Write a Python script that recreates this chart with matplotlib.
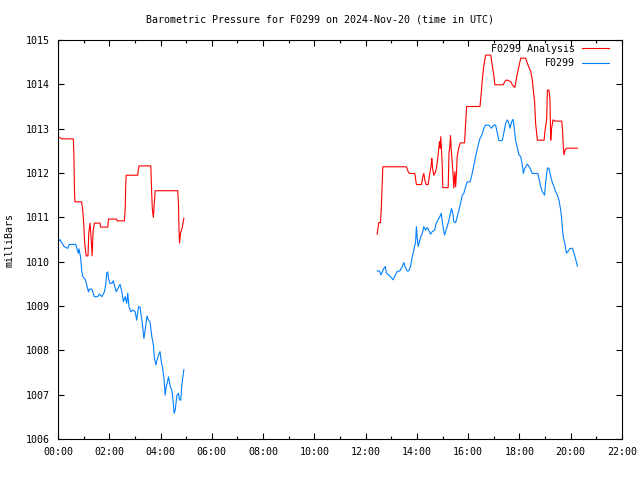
import numpy as np
import matplotlib
matplotlib.use("Agg")
import matplotlib.pyplot as plt
from matplotlib.ticker import MultipleLocator, FuncFormatter

# Tiempos en horas UTC, presion en milibares
analysis_t = [0.00, 0.15, 0.60, 0.62, 0.64, 0.66, 0.92, 0.96, 1.00, 1.04, 1.10, 1.17,
              1.20, 1.25, 1.30, 1.33, 1.37, 1.42, 1.64, 1.66, 1.94, 1.97, 2.29, 2.31,
              2.59, 2.62, 2.64, 2.66, 3.11, 3.13, 3.16, 3.62, 3.65, 3.68, 3.72, 3.79,
              4.67, 4.70, 4.72, 4.74, 4.78, 4.84, 4.91,
              np.nan,
              12.45, 12.49, 12.51, 12.58, 12.61, 12.67, 13.59, 13.66, 13.71, 13.92,
              13.98, 14.18, 14.23, 14.27, 14.31, 14.36, 14.44, 14.49, 14.56, 14.58,
              14.62, 14.66, 14.73, 14.77, 14.82, 14.88, 14.91, 14.93, 14.96, 14.99,
              15.01, 15.22, 15.25, 15.29, 15.31, 15.34, 15.38, 15.42, 15.44, 15.48,
              15.51, 15.55, 15.57, 15.64, 15.70, 15.86, 15.90, 15.94, 16.46, 16.51,
              16.55, 16.61, 16.68, 16.88, 16.94, 17.00, 17.04, 17.37, 17.42, 17.50,
              17.66, 17.72, 17.82, 17.92, 18.05, 18.24, 18.33, 18.44, 18.50, 18.54,
              18.59, 18.63, 18.70, 18.96, 19.00, 19.06, 19.09, 19.15, 19.19, 19.22,
              19.25, 19.31, 19.38, 19.65, 19.68, 19.71, 19.74, 19.78, 19.84, 20.26]
analysis_p = [1012.82, 1012.77, 1012.77, 1012.41, 1011.69, 1011.35, 1011.35, 1011.19,
              1010.90, 1010.42, 1010.13, 1010.13, 1010.65, 1010.87, 1010.45, 1010.13,
              1010.70, 1010.87, 1010.87, 1010.78, 1010.78, 1010.96, 1010.96, 1010.92,
              1010.92, 1011.19, 1011.69, 1011.95, 1011.95, 1012.07, 1012.16, 1012.16,
              1011.62, 1011.19, 1011.00, 1011.60, 1011.60, 1011.29, 1010.71, 1010.42,
              1010.65, 1010.75, 1010.98,
              np.nan,
              1010.62, 1010.79, 1010.88, 1010.88, 1011.20, 1012.14, 1012.14, 1012.03,
              1011.99, 1011.99, 1011.74, 1011.74, 1011.92, 1011.99, 1011.84, 1011.74,
              1011.74, 1011.95, 1012.18, 1012.33, 1012.07, 1011.95, 1012.03, 1012.14,
              1012.37, 1012.71, 1012.56, 1012.82, 1012.52, 1012.14, 1011.67, 1011.67,
              1012.44, 1012.63, 1012.84, 1012.52, 1012.22, 1011.88, 1011.66, 1012.03,
              1011.69, 1012.07, 1012.37, 1012.59, 1012.68, 1012.68, 1013.12, 1013.50,
              1013.50, 1013.80, 1014.10, 1014.42, 1014.66, 1014.66, 1014.42, 1014.21,
              1013.99, 1013.99, 1014.06, 1014.10, 1014.06, 1013.99, 1013.93, 1014.25,
              1014.59, 1014.59, 1014.44, 1014.29, 1014.10, 1013.87, 1013.61, 1013.12,
              1012.74, 1012.74, 1012.97, 1013.20, 1013.87, 1013.87, 1013.65, 1012.74,
              1012.99, 1013.20, 1013.17, 1013.17, 1012.97, 1012.59, 1012.41, 1012.52,
              1012.56, 1012.56]

station_t = [0.01, 0.07, 0.24, 0.38, 0.44, 0.69, 0.79, 0.82, 0.88, 0.90, 0.93, 0.97,
             1.07, 1.12, 1.19, 1.22, 1.32, 1.42, 1.55, 1.61, 1.71, 1.81, 1.86, 1.90,
             1.94, 1.97, 2.03, 2.10, 2.16, 2.20, 2.27, 2.36, 2.42, 2.49, 2.55, 2.62,
             2.68, 2.72, 2.77, 2.85, 2.92, 3.01, 3.07, 3.14, 3.20, 3.24, 3.29, 3.35,
             3.40, 3.47, 3.53, 3.59, 3.66, 3.72, 3.76, 3.82, 3.86, 3.92, 3.98, 4.02,
             4.07, 4.13, 4.18, 4.22, 4.26, 4.31, 4.38, 4.44, 4.48, 4.53, 4.57, 4.64,
             4.70, 4.74, 4.79, 4.83, 4.88, 4.91,
             np.nan,
             12.45, 12.54, 12.60, 12.71, 12.77, 12.81, 12.90, 12.97, 13.07, 13.16,
             13.23, 13.33, 13.43, 13.49, 13.55, 13.62, 13.68, 13.75, 13.82, 13.88,
             13.95, 13.98, 14.01, 14.05, 14.10, 14.15, 14.21, 14.27, 14.34, 14.40,
             14.46, 14.53, 14.60, 14.69, 14.75, 14.82, 14.89, 14.95, 14.99, 15.03,
             15.08, 15.12, 15.18, 15.25, 15.31, 15.35, 15.40, 15.44, 15.51, 15.57,
             15.64, 15.70, 15.77, 15.83, 15.90, 15.96, 16.07, 16.13, 16.20, 16.26,
             16.33, 16.39, 16.46, 16.55, 16.61, 16.68, 16.81, 16.90, 17.00, 17.07,
             17.11, 17.20, 17.33, 17.40, 17.46, 17.53, 17.59, 17.63, 17.70, 17.75,
             17.79, 17.85, 17.92, 17.98, 18.05, 18.11, 18.15, 18.21, 18.31, 18.41,
             18.50, 18.72, 18.76, 18.83, 18.89, 18.98, 19.02, 19.09, 19.15, 19.22,
             19.29, 19.35, 19.41, 19.48, 19.54, 19.61, 19.65, 19.68, 19.71, 19.77,
             19.83, 19.89, 19.97, 20.07, 20.13, 20.20, 20.26]
station_p = [1010.45, 1010.50, 1010.34, 1010.30, 1010.39, 1010.39, 1010.19, 1010.29,
             1010.10, 1009.96, 1009.77, 1009.66, 1009.59, 1009.47, 1009.32, 1009.38,
             1009.38, 1009.21, 1009.21, 1009.27, 1009.21, 1009.32, 1009.47, 1009.74,
             1009.77, 1009.62, 1009.51, 1009.51, 1009.57, 1009.47, 1009.32, 1009.42,
             1009.49, 1009.32, 1009.10, 1009.21, 1009.06, 1009.29, 1008.98, 1008.87,
             1008.91, 1008.87, 1008.68, 1008.98, 1008.98, 1008.80, 1008.61, 1008.27,
             1008.46, 1008.77, 1008.68, 1008.64, 1008.31, 1008.12, 1007.82, 1007.67,
             1007.78, 1007.89, 1007.97, 1007.78, 1007.63, 1007.40, 1006.99, 1007.18,
             1007.26, 1007.40, 1007.18, 1007.10, 1006.92, 1006.58, 1006.65, 1006.99,
             1007.03, 1006.88, 1006.88, 1007.22, 1007.44, 1007.57,
             np.nan,
             1009.79, 1009.79, 1009.70, 1009.85, 1009.89, 1009.74, 1009.70, 1009.66,
             1009.59, 1009.70, 1009.78, 1009.79, 1009.89, 1009.98, 1009.87, 1009.79,
             1009.79, 1009.89, 1010.11, 1010.26, 1010.45, 1010.79, 1010.56, 1010.34,
             1010.45, 1010.56, 1010.64, 1010.79, 1010.71, 1010.77, 1010.71, 1010.62,
             1010.68, 1010.71, 1010.86, 1010.94, 1011.01, 1011.09, 1010.90, 1010.75,
             1010.60, 1010.68, 1010.79, 1010.94, 1011.09, 1011.20, 1011.09, 1010.90,
             1010.88, 1011.01, 1011.16, 1011.31, 1011.50, 1011.54, 1011.69, 1011.80,
             1011.80, 1011.92, 1012.11, 1012.29, 1012.48, 1012.63, 1012.78, 1012.88,
             1013.01, 1013.08, 1013.08, 1013.01, 1013.08, 1013.08, 1012.97, 1012.73,
             1012.73, 1012.93, 1013.12, 1013.20, 1013.12, 1013.01, 1013.16, 1013.21,
             1013.04, 1012.74, 1012.56, 1012.41, 1012.37, 1012.18, 1011.99, 1012.11,
             1012.20, 1012.11, 1011.99, 1011.99, 1011.88, 1011.69, 1011.58, 1011.50,
             1011.77, 1012.11, 1012.11, 1011.92, 1011.77, 1011.69, 1011.58, 1011.50,
             1011.39, 1011.16, 1010.94, 1010.71, 1010.56, 1010.41, 1010.19, 1010.23,
             1010.30, 1010.30, 1010.19, 1010.04, 1009.90]

TITLE = "Barometric Pressure for F0299 on 2024-Nov-20 (time in UTC)"
FONT = "DejaVu Sans Mono"
FS = 7.2

plt.rcParams["font.family"] = FONT
plt.rcParams["font.size"] = FS

fig = plt.figure(figsize=(6.4, 4.8), dpi=100)
ax = fig.add_axes([58 / 640, 1 - 439 / 480, 564 / 640, 399 / 480])

ax.plot(analysis_t, analysis_p, color="#ff0000", lw=0.8, label="F0299 Analysis")
ax.plot(station_t, station_p, color="#0080ff", lw=0.8, label="F0299")

ax.set_xlim(0, 22)
ax.set_ylim(1006, 1015)
ax.xaxis.set_major_locator(MultipleLocator(2))
ax.xaxis.set_minor_locator(MultipleLocator(1))
ax.yaxis.set_major_locator(MultipleLocator(1))
ax.xaxis.set_major_formatter(FuncFormatter(lambda v, p: "%02d:00" % int(round(v))))
ax.yaxis.set_major_formatter(FuncFormatter(lambda v, p: "%d" % int(round(v))))

ax.tick_params(which="both", direction="in", top=True, right=True, width=0.8,
               labelsize=FS, colors="black")
ax.tick_params(which="major", length=4.5, pad=6)
ax.tick_params(which="minor", length=2.5)
for s in ax.spines.values():
    s.set_linewidth(0.8)

fig.text(0.5, 1 - 20 / 480, TITLE, ha="center", va="center", fontsize=FS)
fig.text(10 / 640, 0.5, "milliBars", rotation=90, ha="center", va="center", fontsize=FS)

ax.legend(loc="upper right", frameon=False, markerfirst=False, handlelength=2.7,
          handletextpad=0.7, labelspacing=0.45, borderaxespad=0.0, borderpad=0.0,
          bbox_to_anchor=(0.977, 0.99), fontsize=FS)

fig.savefig("out.png", dpi=100)
